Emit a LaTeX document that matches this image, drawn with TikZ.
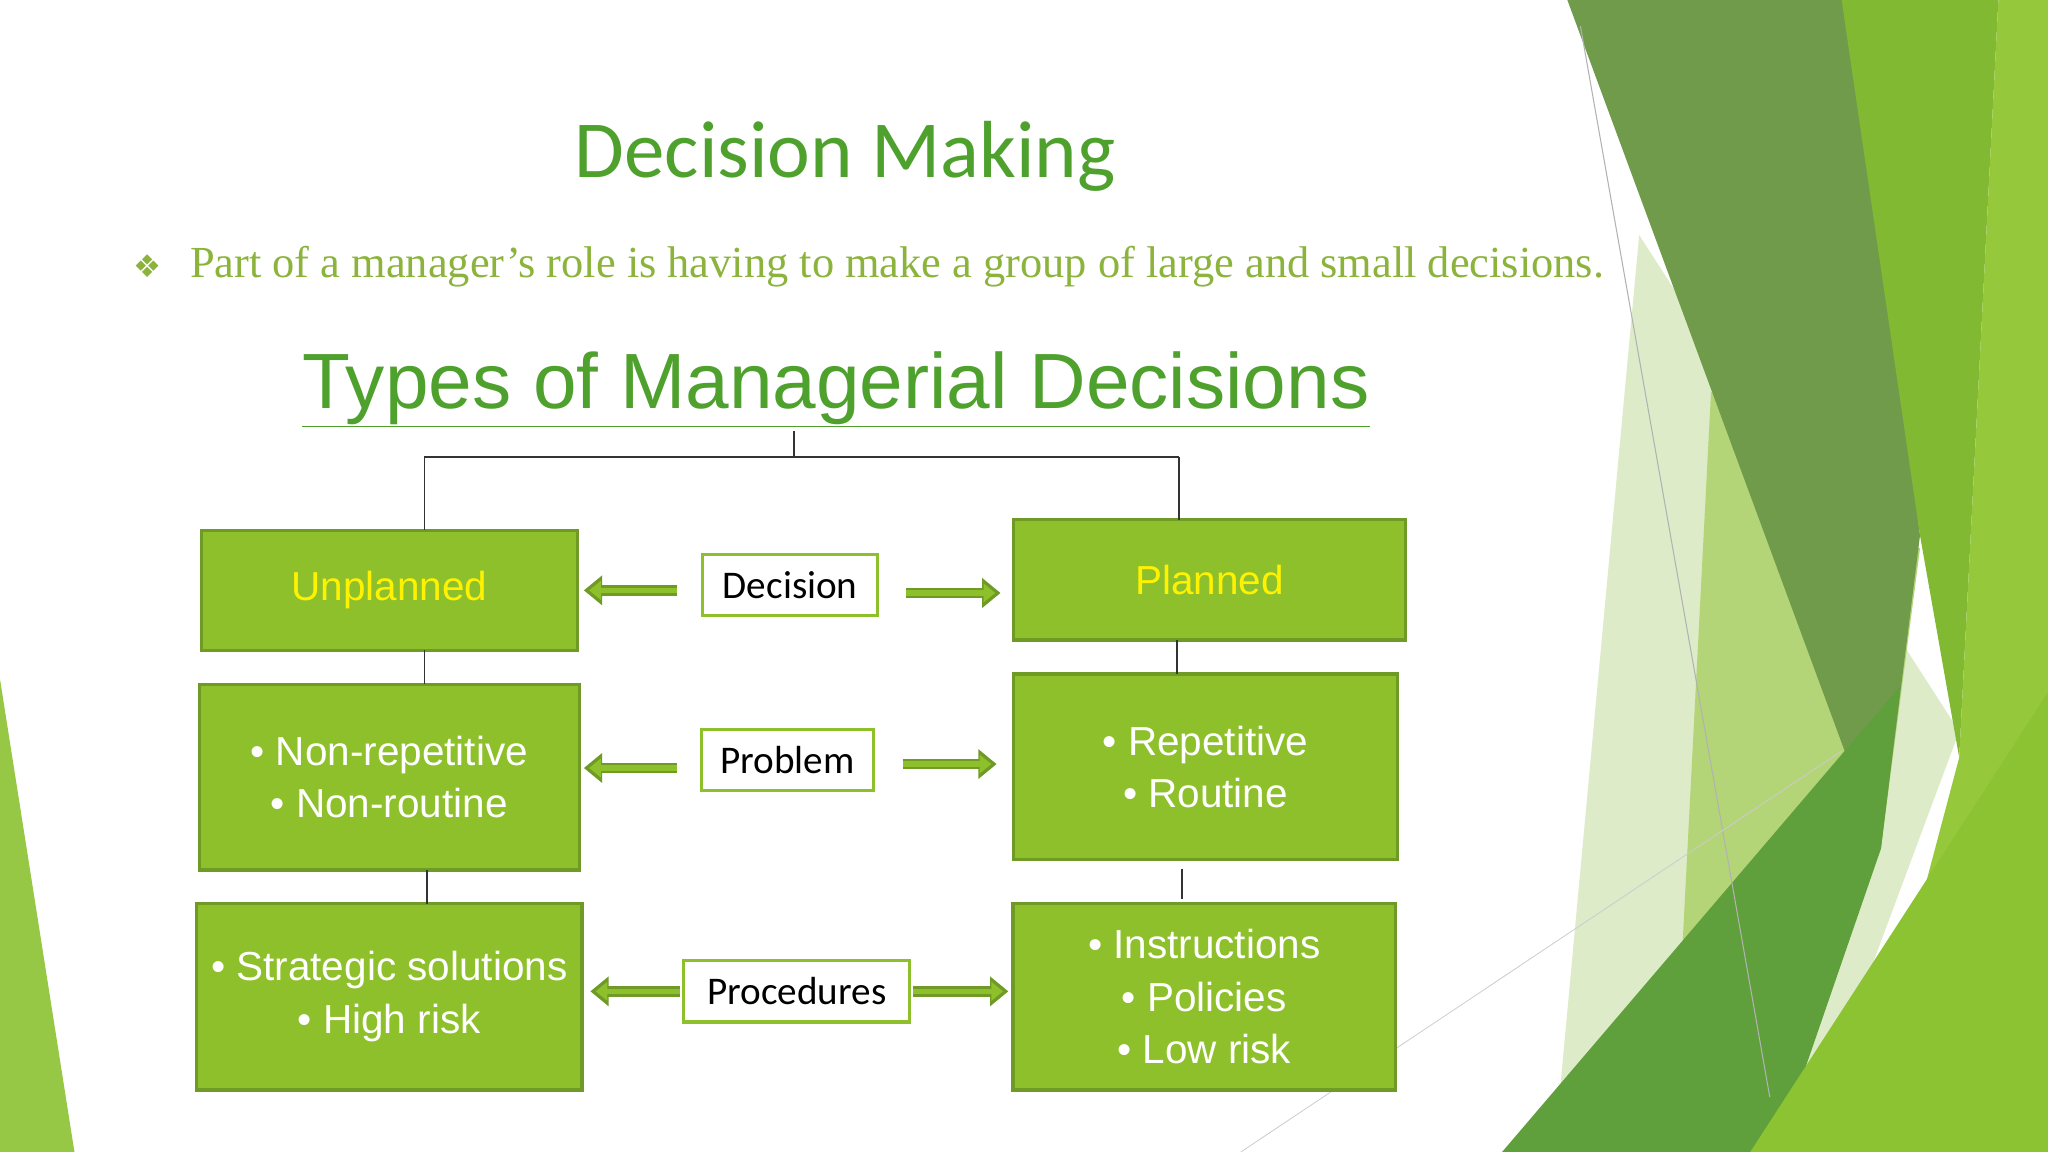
\documentclass[tikz,border=0pt]{standalone}
\usepackage{fontspec}
\setmainfont{Liberation Sans}
\newfontfamily\calfnt{Carlito}
\newfontfamily\tmsfnt{Liberation Serif}
\newfontfamily\djfnt{DejaVu Sans}
\usetikzlibrary{arrows.meta}
\definecolor{bfill}{HTML}{8DC02B}
\definecolor{bdraw}{HTML}{6E9A25}
\definecolor{ttl}{HTML}{4FA12E}
\definecolor{sub}{HTML}{8CB43C}
\definecolor{bgA}{HTML}{DDEBC8}
\definecolor{bgB}{HTML}{B4D478}
\definecolor{bgC}{HTML}{709B4B}
\definecolor{bgD}{HTML}{82B932}
\definecolor{bgE}{HTML}{96C83C}
\definecolor{bgF}{HTML}{5FA03C}
\definecolor{bgG}{HTML}{8CC332}
\definecolor{bgH}{HTML}{96C846}
\begin{document}
\begin{tikzpicture}[x=1pt,y=-1pt,
 box/.style={draw=bdraw,line width=2.5,fill=bfill,text=white,font=\fontsize{31}{40}\selectfont,align=center,inner sep=0},
 lbl/.style={draw=bfill,line width=2.5,fill=white,font=\calfnt\fontsize{30}{36}\selectfont,inner sep=0},
 con/.style={line width=1.5,black!80}]
\useasboundingbox (0,0) rectangle (1568,882);
\fill[white] (0,0) rectangle (1568,882);
% background shapes
\fill[bgA] (1255,180)--(1500,560)--(1380,882)--(1190,882)--cycle;
\fill[bgB] (1310,300)--(1470,420)--(1440,650)--(1350,882)--(1280,882)--cycle;
\fill[bgC] (1200,0)--(1420,0)--(1470,410)--(1440,650)--cycle;
\fill[bgD] (1410,0)--(1530,0)--(1500,580)--(1470,410)--cycle;
\fill[bgE] (1530,0)--(1568,0)--(1568,882)--(1420,882)--(1500,580)--cycle;
\fill[bgF] (1150,882)--(1455,525)--(1440,650)--(1360,882)--cycle;
\fill[bgG] (1340,882)--(1568,530)--(1568,882)--cycle;
\fill[bgH] (0,520)--(57,882)--(0,882)--cycle;
\draw[gray!60,line width=0.8] (1210,20)--(1355,840);
\draw[gray!40,line width=0.6] (950,882)--(1410,575);
% titles
\node[text=ttl,font=\calfnt\fontsize{62}{70}\selectfont] (t) at (647,120) {Decision Making};
\node[text=sub,font=\djfnt\fontsize{24}{28}\selectfont] (b) at (113,204) {❖};
\node[text=sub,font=\tmsfnt\fontsize{34}{40}\selectfont,anchor=west] (s) at (142,204) {Part of a manager’s role is having to make a group of large and small decisions.};
\node[text=ttl,font=\fontsize{60}{70}\selectfont] (ty) at (640,298) {\underline{Types of Managerial Decisions}};
% boxes
\node[box,text=yellow,minimum width=288,minimum height=92] (u) at (298,452) {Unplanned};
\node[box,text=yellow,minimum width=300,minimum height=92] (p) at (926,444) {Planned};
\node[box,minimum width=291,minimum height=142] (nr) at (298,595) {• Non-repetitive\\• Non-routine};
\node[box,minimum width=294,minimum height=142] (r) at (923,587) {• Repetitive\\• Routine};
\node[box,minimum width=295,minimum height=143] (st) at (298,763) {• Strategic solutions\\• High risk};
\node[box,minimum width=293,minimum height=143] (in) at (922,763) {• Instructions\\• Policies\\• Low risk};
\node[lbl,minimum width=134,minimum height=47] (d) at (605,448) {Decision};
\node[lbl,minimum width=132,minimum height=47] (pr) at (603,582) {Problem};
\node[lbl,minimum width=173,minimum height=47] (pc) at (610,759) {Procedures};
% tree
\coordinate (top) at (608,330);
\coordinate (j) at (608,350);
\draw[con] (top)--(j);
\draw[con] (325,350)--(903,350);
\draw[con] (325,350)--(325,406);
\draw[con] (903,350)--(903,398);
\draw[con] (325,498)--(325,524);
\draw[con] (327,666)--(327,692);
\draw[con] (901,490)--(901,516);
\draw[con] (905,665)--(905,688);
% arrows
\foreach \a/\b/\y in {518/447/452,694/766/454,518/447/588,691/763/585,521/452/759,699/772/759}{
 \draw[bdraw,line width=8,-{Triangle[length=14,width=22]}] (\a,\y)--(\b,\y);
 \draw[bfill,line width=4,shorten >=4,-{Triangle[length=9,width=14]}] (\a,\y)--(\b,\y);
}
\end{tikzpicture}
\end{document}
